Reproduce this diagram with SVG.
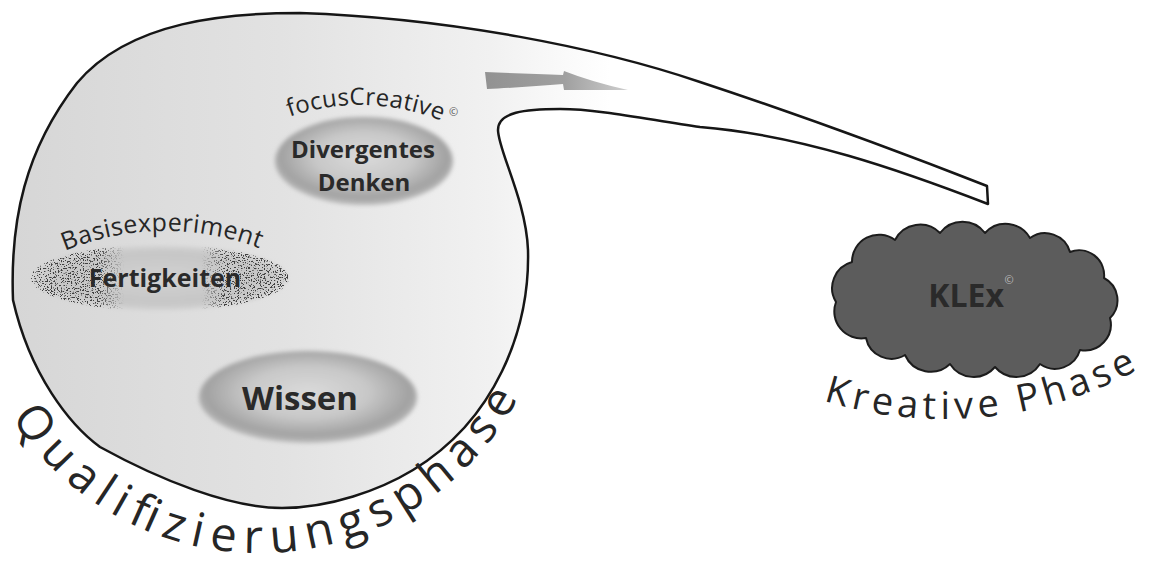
<svg xmlns="http://www.w3.org/2000/svg" width="1149" height="566" viewBox="0 0 1149 566">
<style>
.sans{font-family:"Open Sans","Noto Sans","Liberation Sans",sans-serif}
.bold{font-weight:700;fill:#2a2a2a;text-anchor:middle}
.arc{fill:#262626}
.outline{stroke:#161616;stroke-width:2.5;stroke-linejoin:round}
</style>
<defs>
  <linearGradient id="bubbleFill" gradientUnits="userSpaceOnUse" x1="10" y1="0" x2="610" y2="0">
    <stop offset="0" stop-color="#d6d6d6"/>
    <stop offset="0.45" stop-color="#e2e2e2"/>
    <stop offset="0.8" stop-color="#f1f1f1"/>
    <stop offset="1" stop-color="#ffffff"/>
  </linearGradient>
  <radialGradient id="blob" cx="0.5" cy="0.45" r="0.55">
    <stop offset="0" stop-color="#dadada"/>
    <stop offset="0.5" stop-color="#c8c8c8"/>
    <stop offset="0.85" stop-color="#a2a2a2"/>
    <stop offset="1" stop-color="#bdbdbd"/>
  </radialGradient>
  <radialGradient id="blobLight" cx="0.5" cy="0.5" r="0.55">
    <stop offset="0" stop-color="#d2d2d2"/>
    <stop offset="0.7" stop-color="#c6c6c6"/>
    <stop offset="1" stop-color="#d6d6d6"/>
  </radialGradient>
  <filter id="soft" x="-10%" y="-10%" width="120%" height="120%">
    <feGaussianBlur stdDeviation="2"/>
  </filter>
  <linearGradient id="speckMask" x1="0" y1="0" x2="1" y2="0">
    <stop offset="0" stop-color="#000" stop-opacity="1"/>
    <stop offset="0.26" stop-color="#000" stop-opacity="1"/>
    <stop offset="0.36" stop-color="#000" stop-opacity="0"/>
    <stop offset="0.66" stop-color="#000" stop-opacity="0"/>
    <stop offset="0.75" stop-color="#000" stop-opacity="1"/>
    <stop offset="1" stop-color="#000" stop-opacity="1"/>
  </linearGradient>
  <filter id="speckle" x="0" y="0" width="100%" height="100%" color-interpolation-filters="sRGB">
    <feTurbulence type="fractalNoise" baseFrequency="0.7" numOctaves="2" seed="11" result="noise"/>
    <feColorMatrix in="noise" type="matrix" values="0 0 0 0 0.25  0 0 0 0 0.25  0 0 0 0 0.25  14 0 0 0 -7.9" result="dots"/>
    <feComposite in="dots" in2="SourceAlpha" operator="in"/>
  </filter>
  <linearGradient id="arrowFill" gradientUnits="userSpaceOnUse" x1="485" y1="0" x2="630" y2="0">
    <stop offset="0" stop-color="#929292"/>
    <stop offset="0.55" stop-color="#a0a0a0"/>
    <stop offset="1" stop-color="#d0d0d0"/>
  </linearGradient>
  <path id="pQual" d="M-0.6,397 A294,294 0 0 0 535.3,359.6"/>
  <path id="pKre" d="M792.3,389.5 A405,405 0 0 0 1176.3,345.8"/>
  <path id="pBasis" d="M33.5,266.2 A263,263 0 0 1 296.5,266.2"/>
  <path id="pFocus" d="M269.1,125.1 A215,215 0 0 1 467.5,133.8"/>
</defs>

<rect width="1149" height="566" fill="#ffffff"/>

<g id="qualifizierungsphase">
  <path class="outline" fill="url(#bubbleFill)" d="M300,13 C450,18 600,48 700,82 C800,115 900,152 987,186 L988,204 C900,170 800,135 700,127 C650,120 600,109 560,109 C525,109 498,112 498,130 C498,150 526,200 528,250 C530,330 495,420 413,470 C380,490 330,508 282,508 C230,508 160,480 100,447 C70,425 30,375 13,300 C10,220 25,150 77,83 C130,20 230,13 300,13 Z"/>
  <text class="sans arc" font-size="47"><textPath href="#pQual" startOffset="24" textLength="611" lengthAdjust="spacing">Qualifizierungsphase</textPath></text>
</g>

<g id="connectors">
  <path id="arrow" fill="url(#arrowFill)" d="M485,72 C510,73 540,74 563,75 L564,71 Q592,82 628,90 L564,90 L563,84 C540,86 510,88 487,89 Z"/>
</g>

<g id="divergentes-denken">
  <ellipse cx="364" cy="161" rx="89" ry="44" fill="url(#blob)" filter="url(#soft)"/>
  <text class="sans bold" font-size="24"><tspan x="363" y="158">Divergentes</tspan><tspan x="364" y="191">Denken</tspan></text>
  <text class="sans arc" font-size="24" fill="#303030"><textPath href="#pFocus" startOffset="22" textLength="155" lengthAdjust="spacing">focusCreative</textPath></text>
  <text class="sans" font-size="11" fill="#555" x="453.5" y="116" text-anchor="middle">©</text>
</g>

<g id="fertigkeiten">
  <ellipse cx="160" cy="278" rx="127" ry="32" fill="url(#blobLight)" filter="url(#soft)"/>
  <ellipse cx="160" cy="278" rx="129" ry="33" fill="url(#speckMask)" filter="url(#speckle)"/>
  <text class="sans bold" font-size="25" x="165" y="287" fill="#333">Fertigkeiten</text>
  <text class="sans arc" font-size="25" fill="#303030"><textPath href="#pBasis" startOffset="35" textLength="199" lengthAdjust="spacing">Basisexperiment</textPath></text>
</g>

<g id="wissen">
  <ellipse cx="308" cy="397" rx="109" ry="46" fill="url(#blob)" filter="url(#soft)"/>
  <text class="sans bold" font-size="33" x="300" y="410">Wissen</text>
</g>

<g id="klex">
  <path fill="#5c5c5c" stroke="#1c1c1c" stroke-width="2" stroke-linejoin="round" d="M836,302 A27,27 0 0 1 852,262 A27,27 0 0 1 895,240 A28,28 0 0 1 940,233 A28,28 0 0 1 985,233 A28,28 0 0 1 1030,238 A26,26 0 0 1 1070,252 A25,25 0 0 1 1104,278 A25,25 0 0 1 1110,318 A26,26 0 0 1 1080,350 A26,26 0 0 1 1040,364 A28,28 0 0 1 995,367 A28,28 0 0 1 950,364 A28,28 0 0 1 905,355 A26,26 0 0 1 866,338 A27,27 0 0 1 836,302 Z"/>
  <text class="sans bold" font-size="32" x="966" y="307" fill="#1c1c1c">KLEx</text>
  <text class="sans" font-size="11" fill="#bdbdbd" x="1009" y="284" text-anchor="middle">©</text>
  <text class="sans arc" font-size="38"><textPath href="#pKre" startOffset="33" textLength="324" lengthAdjust="spacing">Kreative Phase</textPath></text>
</g>
</svg>
